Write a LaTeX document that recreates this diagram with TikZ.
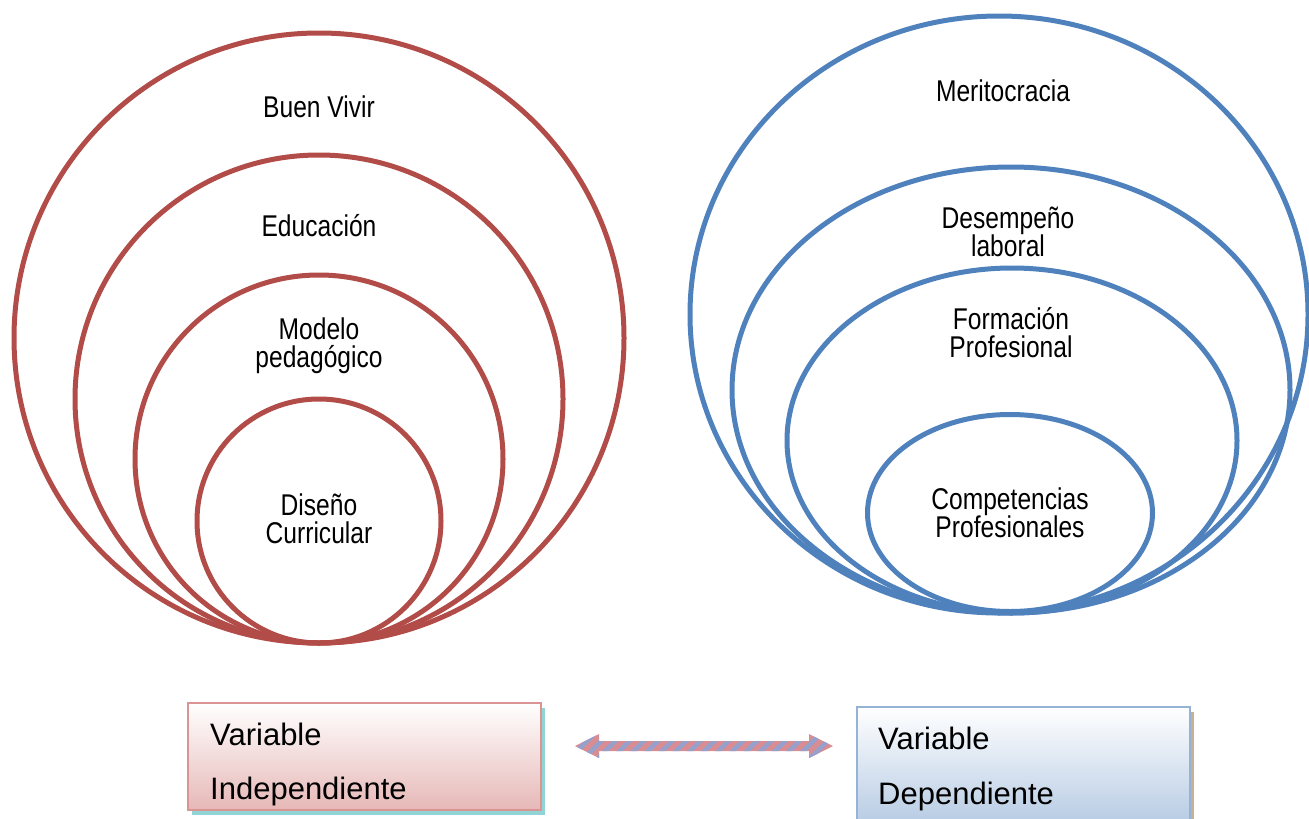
\documentclass[tikz,border=0pt]{standalone}
\usepackage{fontspec}
\setmainfont{Liberation Sans}
\newfontfamily\lblfont[FakeStretch=0.82]{Liberation Sans}
\usetikzlibrary{shapes.geometric,patterns.meta,shadows,calc}
\definecolor{ringred}{RGB}{178,76,72}
\definecolor{ringblue}{RGB}{79,129,189}
\definecolor{boxredline}{RGB}{217,149,148}
\definecolor{boxredfill}{RGB}{230,184,183}
\definecolor{boxblueline}{RGB}{149,179,215}
\definecolor{boxbluefill}{RGB}{184,204,228}
\definecolor{tealshadow}{RGB}{146,212,214}
\definecolor{tanshadow}{RGB}{200,176,146}
\definecolor{arrpink}{RGB}{217,140,145}
\definecolor{arrblue}{RGB}{150,160,205}
\tikzset{
  redring/.style={circle, draw=ringred, line width=5pt, inner sep=0pt},
  bluering/.style={ellipse, draw=ringblue, line width=5pt, inner sep=0pt},
  lbl/.style={font=\lblfont\fontsize{30}{28}\selectfont, align=center, inner sep=0pt},
  boxtxt/.style={font=\fontsize{31}{36}\selectfont, anchor=base west, inner sep=0pt},
  redbox/.style={rectangle, draw=boxredline, line width=2.5pt, top color=white, bottom color=boxredfill,
    general shadow={fill=tealshadow, shadow xshift=4pt, shadow yshift=-5pt}},
  bluebox/.style={rectangle, draw=boxblueline, line width=2.5pt, top color=white, bottom color=boxbluefill,
    general shadow={fill=tanshadow, shadow xshift=4pt, shadow yshift=-5pt}},
}
\begin{document}
\begin{tikzpicture}[x=1pt,y=-1pt]
\useasboundingbox (0,0) rectangle (1309,819);
% red circles
\node[redring, minimum size=610pt] (c1) at (319,338) {};
\node[redring, minimum size=488pt] (c2) at (319,399) {};
\node[redring, minimum size=368pt] (c3) at (319,459) {};
\node[redring, minimum size=244pt] (c4) at (319,521) {};
\node[lbl] (l1) at (319,107) {Buen Vivir};
\node[lbl] (l2) at (319,226) {Educación};
\node[lbl] (l3) at (319,346) {Modelo\\pedagógico};
\node[lbl] (l4) at (319,519) {Diseño\\Curricular};
% blue ellipses
\node[bluering, minimum width=618pt, minimum height=597pt] (e1) at (999,314.5) {};
\node[bluering, minimum width=558pt, minimum height=446pt] (e2) at (1011,390) {};
\node[bluering, minimum width=450pt, minimum height=345pt] (e3) at (1012,440.5) {};
\node[bluering, minimum width=285pt, minimum height=197pt] (e4) at (1010,513) {};
\node[lbl] (m1) at (1003,91) {Meritocracia};
\node[lbl] (m2) at (1008,232) {Desempeño\\laboral};
\node[lbl] (m3) at (1011,333) {Formación\\Profesional};
\node[lbl] (m4) at (1010,513) {Competencias\\Profesionales};
% boxes
\node[redbox, minimum width=353pt, minimum height=107pt] (vi) at (364.5,756.5) {};
\node[bluebox, minimum width=333pt, minimum height=115pt] (vd) at (1023.5,764.5) {};
\node[boxtxt] (vi1) at (210,745) {Variable};
\node[boxtxt] (vi2) at (210,799) {Independiente};
\node[boxtxt] (vd1) at (878,749) {Variable};
\node[boxtxt] (vd2) at (878,804) {Dependiente};
% double arrow
\coordinate (al) at (575,746);
\coordinate (ar) at (833,746);
\path[preaction={fill=arrpink},
      pattern={Lines[angle=45,distance=10pt,line width=4.5pt]}, pattern color=arrblue]
  (al) -- ++(24,-12) -- ++(0,7) -- ($(ar)+(-24,-5)$) -- ++(0,-7) -- (ar)
  -- ++(-24,12) -- ++(0,-7) -- ($(al)+(24,5)$) -- ++(0,7) -- cycle;
\end{tikzpicture}
\end{document}
